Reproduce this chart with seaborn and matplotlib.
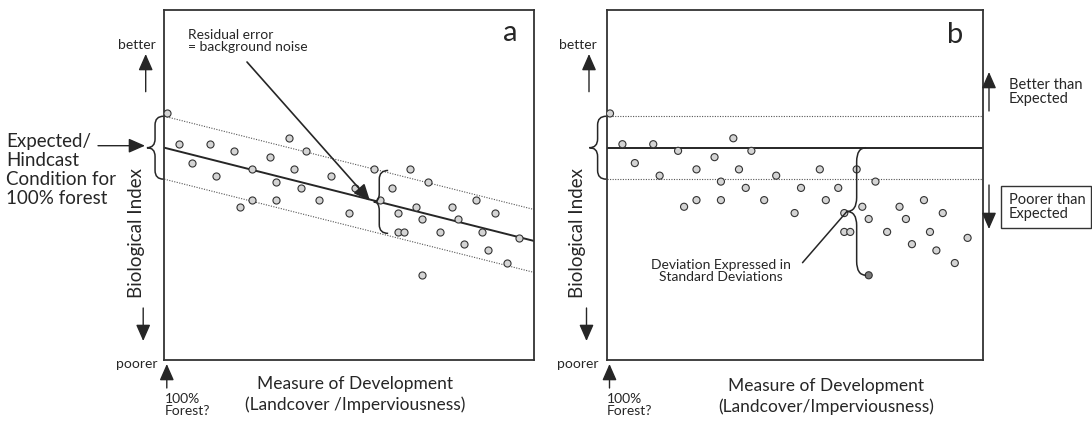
import numpy as np
import pandas as pd
import matplotlib
matplotlib.use("Agg")
import matplotlib.pyplot as plt
from matplotlib.path import Path
from matplotlib.patches import PathPatch, Rectangle, FancyArrowPatch
from matplotlib.transforms import Affine2D
import seaborn as sns

# ---- site data (axis units 0-100) ----
development = [0.8, 4.1, 12.3, 18.9, 7.4, 14.0, 23.8, 33.6, 38.4, 28.6,
               35.1, 30.3, 36.9, 45.0, 23.8, 30.3, 20.5, 41.8, 49.9, 51.6,
               56.6, 58.2, 61.5, 66.4, 71.4, 67.9, 63.1, 69.6, 63.1, 64.7,
               74.5, 77.8, 79.5, 84.3, 89.3, 85.9, 81.1, 87.6, 92.5, 95.9,
               69.6]
bio_index = [70.4, 61.6, 61.6, 59.7, 56.2, 52.6, 54.4, 63.3, 59.7, 57.9,
             54.4, 50.9, 49.1, 52.6, 45.6, 45.6, 43.7, 45.6, 41.9, 49.1,
             54.4, 45.6, 49.1, 54.4, 50.9, 43.7, 41.9, 40.2, 36.5, 36.5,
             36.5, 43.7, 40.2, 45.6, 41.9, 36.5, 33.0, 31.2, 27.6, 34.8,
             24.1]
highlighted_site = 40

# expected (hindcast) relationship and residual spread
expected_intercept = 60.6
expected_slope = -0.267
residual_sd = 9.0

sites = pd.DataFrame({"development": development, "bio_index": bio_index})
sites["flagged"] = sites.index == highlighted_site

sns.set_style("white")
plt.rcParams["font.family"] = ["Lato", "DejaVu Sans"]

INK = "#262626"
W, H = 1092, 425
fig = plt.figure(figsize=(W / 100, H / 100), dpi=100)
# pixel coordinates measured from the top-left corner of the figure
PX = Affine2D().scale(1 / W, -1 / H).translate(0, 1) + fig.transFigure

ax_a = fig.add_axes([164.3 / W, 65.5 / H, 370 / W, 349.5 / H])
ax_b = fig.add_axes([607 / W, 65.5 / H, 376 / W, 349.5 / H])

xs = np.array([0.0, 100.0])
dotted = dict(color="#555555", lw=0.8, linestyle=(0, (1, 1.3)))

# ---- panel a: regression on development ----
fit = expected_intercept + expected_slope * xs
sns.lineplot(x=xs, y=fit, ax=ax_a, color=INK, lw=1.4)
sns.lineplot(x=xs, y=fit + residual_sd, ax=ax_a, **dotted)
sns.lineplot(x=xs, y=fit - residual_sd, ax=ax_a, **dotted)
sns.scatterplot(data=sites, x="development", y="bio_index", ax=ax_a,
                color="#d4d4d4", edgecolor="#333333", linewidth=0.8, s=26,
                zorder=3, legend=False)

# ---- panel b: expected condition held constant ----
flat = np.full(2, expected_intercept)
sns.lineplot(x=xs, y=flat, ax=ax_b, color=INK, lw=1.4)
sns.lineplot(x=xs, y=flat + residual_sd, ax=ax_b, **dotted)
sns.lineplot(x=xs, y=flat - residual_sd, ax=ax_b, **dotted)
sns.scatterplot(data=sites, x="development", y="bio_index", ax=ax_b,
                hue="flagged", palette={False: "#d4d4d4", True: "#7a7a7a"},
                edgecolor="#333333", linewidth=0.8, s=26, zorder=3,
                legend=False)

for ax in (ax_a, ax_b):
    ax.set_xlim(0, 100)
    ax.set_ylim(0, 100)
    ax.set_xticks([])
    ax.set_yticks([])
    ax.set_xlabel("")
    ax.set_ylabel("")
    for sp in ax.spines.values():
        sp.set_visible(True)
        sp.set_color("#333333")
        sp.set_linewidth(1.3)


def curly_brace(ax, x_end, x_stem, x_tip, y_top, y_bot, r, lw=1.1):
    """Vertical curly brace opening to the right, tip pointing left."""
    y_mid = (y_top + y_bot) / 2
    verts = [(x_end, y_top), (x_stem, y_top), (x_stem, y_top - r),
             (x_stem, y_mid + r),
             (x_stem, y_mid), (x_tip, y_mid),
             (x_stem, y_mid), (x_stem, y_mid - r),
             (x_stem, y_bot + r),
             (x_stem, y_bot), (x_end, y_bot)]
    codes = [Path.MOVETO, Path.CURVE3, Path.CURVE3, Path.LINETO,
             Path.CURVE3, Path.CURVE3, Path.CURVE3, Path.CURVE3,
             Path.LINETO, Path.CURVE3, Path.CURVE3]
    ax.add_patch(PathPatch(Path(verts, codes), fill=False, lw=lw, ec=INK,
                           clip_on=False, zorder=4))


# spread around the expected value at 100% forest
for ax in (ax_a, ax_b):
    curly_brace(ax, -0.2, -2.5, -4.7, expected_intercept + residual_sd,
                expected_intercept - residual_sd, 2.5)

# residual spread at a mid-range site
x_mid = 58.1
y_mid = expected_intercept + expected_slope * x_mid
curly_brace(ax_a, 60.5, x_mid, 56.6, y_mid + residual_sd,
            y_mid - residual_sd, 2.5)

# deviation of the flagged site from expectation
flag_y = bio_index[highlighted_site]
curly_brace(ax_b, 68.9, 66.4, 63.8, expected_intercept, flag_y, 4.0)
ax_b.plot([63.8, 52.0], [(expected_intercept + flag_y) / 2, 27.7],
          color=INK, lw=1.1, clip_on=False, zorder=4)

arrow_kw = dict(arrowstyle="-|>,head_length=0.5,head_width=0.22",
                mutation_scale=20, lw=1.0, color=INK, shrinkA=0, shrinkB=0)


def px_arrow(tail, tip):
    fig.add_artist(FancyArrowPatch(tail, tip, transform=PX, **arrow_kw))


# residual error pointer
ax_a.annotate("", xy=(55.6, 45.4), xycoords="data",
              xytext=(247, 62), textcoords=PX,
              arrowprops=dict(arrow_kw, lw=1.2), annotation_clip=False)

# axis direction arrows
for x_left, x_axis in ((145.7, 164.3), (589.0, 607.0)):
    px_arrow((x_left, 91.7), (x_left, 54.0))
    px_arrow((x_left - 2.5, 308.0), (x_left - 2.5, 341.0))
    px_arrow((x_axis + 2.5, 388.0), (x_axis + 2.5, 364.0))
px_arrow((98.0, 145.7), (145.0, 145.7))
px_arrow((989.0, 111.0), (989.0, 72.0))
px_arrow((989.0, 185.0), (989.0, 229.0))

# "Poorer than expected" box
fig.add_artist(Rectangle((1001, 186), 90, 42.3, transform=PX, fill=False,
                         ec="#333333", lw=1.0))

small = dict(fontsize=10, color=INK, transform=PX)
mid = dict(fontsize=12.5, color=INK, transform=PX)

for x_c in (136.7, 578.0):
    fig.text(x_c, 45, "better", ha="center", va="center", **small)
    fig.text(x_c, 364.5, "poorer", ha="center", va="center", **small)
    fig.text(x_c, 233, "Biological Index", rotation=90, ha="center",
             va="center", fontsize=13.5, color=INK, transform=PX)

fig.text(165, 405, "100%\nForest?", ha="left", va="center", linespacing=1.05,
         **small)
fig.text(607, 405, "100%\nForest?", ha="left", va="center", linespacing=1.05,
         **small)
fig.text(355, 384, "Measure of Development", ha="center", va="center", **mid)
fig.text(355, 405, "(Landcover /Imperviousness)", ha="center", va="center",
         **mid)
fig.text(826, 386, "Measure of Development", ha="center", va="center", **mid)
fig.text(826, 407, "(Landcover/Imperviousness)", ha="center", va="center",
         **mid)

fig.text(6, 170, "Expected/\nHindcast\nCondition for\n100% forest",
         ha="left", va="center", fontsize=13.5, linespacing=1.15, color=INK,
         transform=PX)
fig.text(188, 41, "Residual error\n= background noise", ha="left",
         va="center", linespacing=1.0, **small)
fig.text(720.5, 271.5, "Deviation Expressed in\nStandard Deviations",
         ha="center", va="center", multialignment="center", linespacing=1.0,
         **small)
fig.text(1009, 91.7, "Better than\nExpected", ha="left", va="center",
         linespacing=1.0, fontsize=10.5, color=INK, transform=PX)
fig.text(1009, 207.5, "Poorer than\nExpected", ha="left", va="center",
         linespacing=1.0, fontsize=10.5, color=INK, transform=PX)

fig.text(510, 33, "a", ha="center", va="center", fontsize=21, color=INK,
         transform=PX)
fig.text(955, 35, "b", ha="center", va="center", fontsize=21, color=INK,
         transform=PX)

fig.savefig("out.png", dpi=100)
